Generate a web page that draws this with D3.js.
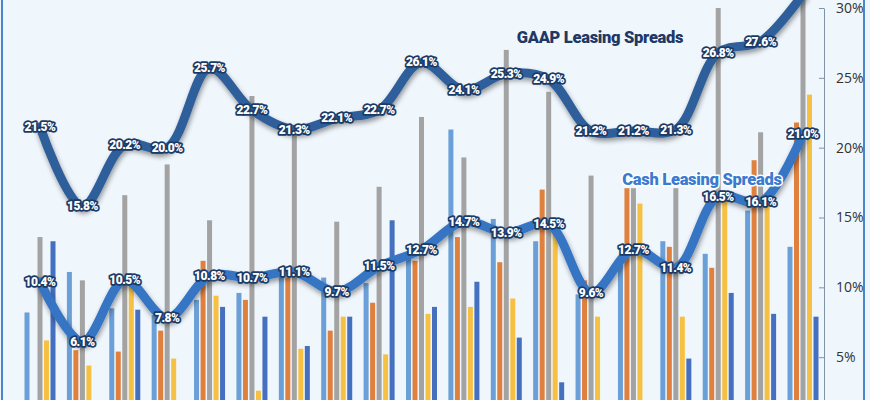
<!DOCTYPE html>
<html lang="en">
<head>
<meta charset="UTF-8">
<script src="https://cdn.jsdelivr.net/npm/d3@7/dist/d3.min.js"></script>
<style>
  body { margin: 0; background: #eef5fc; }
  svg { display: block; }
  .lbl { font-family: Roboto, sans-serif; font-weight: 900; font-size: 12px; letter-spacing: -0.5px;
         fill: #fff; stroke: #1c3a66; stroke-width: 3.5px; paint-order: stroke; stroke-linejoin: round; }
  .tick text { font-family: "Open Sans", sans-serif; font-size: 14px; fill: #333; }
  .title { font-family: Roboto, sans-serif; font-weight: 900; font-size: 16.5px; letter-spacing: -0.3px; }
</style>
</head>
<body>
<script>
// series values (%)
var gaap = [21.5, 15.8, 20.2, 20.0, 25.7, 22.7, 21.3, 22.1, 22.7, 26.1, 24.1, 25.3, 24.9, 21.2, 21.2, 21.3, 26.8, 27.6, 31.0];
var cash = [10.4, 6.1, 10.5, 7.8, 10.8, 10.7, 11.1, 9.7, 11.5, 12.7, 14.7, 13.9, 14.5, 9.6, 12.7, 11.4, 16.5, 16.1, 21.0];
// background bars, five per period
var barLightBlue = [8.2, 11.1, 8.5, 8.0, 9.1, 9.6, 10.9, 10.7, 10.3, 12.5, 21.3, 14.9, 13.3, 9.5, 12.0, 13.3, 12.4, 15.5, 12.9];
var barOrange    = [0.5, 5.5, 5.4, 6.9, 11.9, 9.1, 10.7, 6.9, 8.9, 11.9, 13.6, 11.8, 17.0, 10.5, 17.1, 12.9, 11.4, 19.1, 21.8];
var barGrey      = [13.6, 10.5, 16.6, 18.8, 14.8, 23.7, 21.0, 14.7, 17.2, 22.2, 19.3, 27.0, 24.0, 18.0, 17.1, 17.1, 30.0, 21.1, 31.0];
var barYellow    = [6.2, 4.4, 11.0, 4.9, 9.4, 2.6, 5.6, 7.9, 5.2, 8.1, 8.6, 9.2, 14.0, 7.9, 16.0, 7.9, 16.5, 16.0, 23.8];
var barDarkBlue  = [13.3, 1.5, 8.4, 1.0, 8.6, 7.9, 5.8, 7.9, 14.8, 8.6, 10.4, 6.4, 3.2, 1.0, 1.0, 4.9, 9.6, 8.1, 7.9];
var yTicks = [5, 10, 15, 20, 25, 30];

var W = 870, H = 400;
var svg = d3.select("body").append("svg").attr("width", W).attr("height", H);

var x = d3.scaleLinear().domain([0, 18]).range([40, 803]);
var y = d3.scaleLinear().domain([0, 30]).range([427, 8]);

// frame
svg.append("rect").attr("x", 2).attr("y", -5).attr("width", 862).attr("height", 420)
  .attr("fill", "#eff6fc").attr("stroke", "#4a86c8").attr("stroke-width", 2);

var defs = svg.append("defs");
var f = defs.append("filter").attr("id", "shadow").attr("x", "-10%").attr("y", "-20%").attr("width", "120%").attr("height", "140%");
f.append("feDropShadow").attr("dx", 1).attr("dy", 3).attr("stdDeviation", 2.5).attr("flood-color", "#000").attr("flood-opacity", 0.4);

// bars
var barSeries = [
  { data: barLightBlue, color: "#6a9fd8", off: -13 },
  { data: barOrange, color: "#e0803e", off: -6.5 },
  { data: barGrey, color: "#a3a3a3", off: 0 },
  { data: barYellow, color: "#f6c142", off: 6.5 },
  { data: barDarkBlue, color: "#4570c0", off: 13 }
];
barSeries.forEach(function(s) {
  svg.append("g").selectAll("rect").data(s.data).enter().append("rect")
    .attr("x", function(d, i) { return x(i) + s.off - 2.5; })
    .attr("y", function(d) { return y(d); })
    .attr("width", 5)
    .attr("height", function(d) { return y(0) - y(d); })
    .attr("fill", s.color);
});

// right axis
var axis = svg.append("g").attr("transform", "translate(824,0)")
  .call(d3.axisRight(y).tickValues(yTicks).tickSize(0).tickPadding(12).tickFormat(function(d) { return d + "%"; }));
axis.select(".domain").attr("stroke", "#7f93a8");
axis.selectAll(".tick").append("line").attr("x1", -5).attr("x2", 0).attr("stroke", "#7f93a8");

// lines
var line = d3.line().x(function(d, i) { return x(i); }).y(function(d) { return y(d); }).curve(d3.curveCatmullRom.alpha(0.5));
svg.append("path").datum(gaap).attr("d", line).attr("fill", "none")
  .attr("stroke", "#2f5f9a").attr("stroke-width", 9).attr("stroke-linecap", "round").attr("filter", "url(#shadow)");
svg.append("path").datum(cash).attr("d", line).attr("fill", "none")
  .attr("stroke", "#3474c4").attr("stroke-width", 9).attr("stroke-linecap", "round").attr("filter", "url(#shadow)");

// point labels
function labels(data, n) {
  svg.append("g").selectAll("text").data(data.slice(0, n)).enter().append("text")
    .attr("class", "lbl")
    .attr("x", function(d, i) { return x(i); })
    .attr("y", function(d) { return y(d) + 4; })
    .attr("text-anchor", "middle")
    .text(function(d) { return d.toFixed(1) + "%"; });
}
labels(gaap, 18);
labels(cash, 19);

// series titles
svg.append("text").attr("class", "title").attr("x", 600).attr("y", 43).attr("text-anchor", "middle")
  .attr("fill", "#1f3864").text("GAAP Leasing Spreads");
svg.append("text").attr("class", "title").attr("x", 702).attr("y", 185).attr("text-anchor", "middle")
  .attr("fill", "#3a7bd0").attr("stroke", "#fff").attr("stroke-width", 3).style("paint-order", "stroke")
  .text("Cash Leasing Spreads");
</script>
</body>
</html>
